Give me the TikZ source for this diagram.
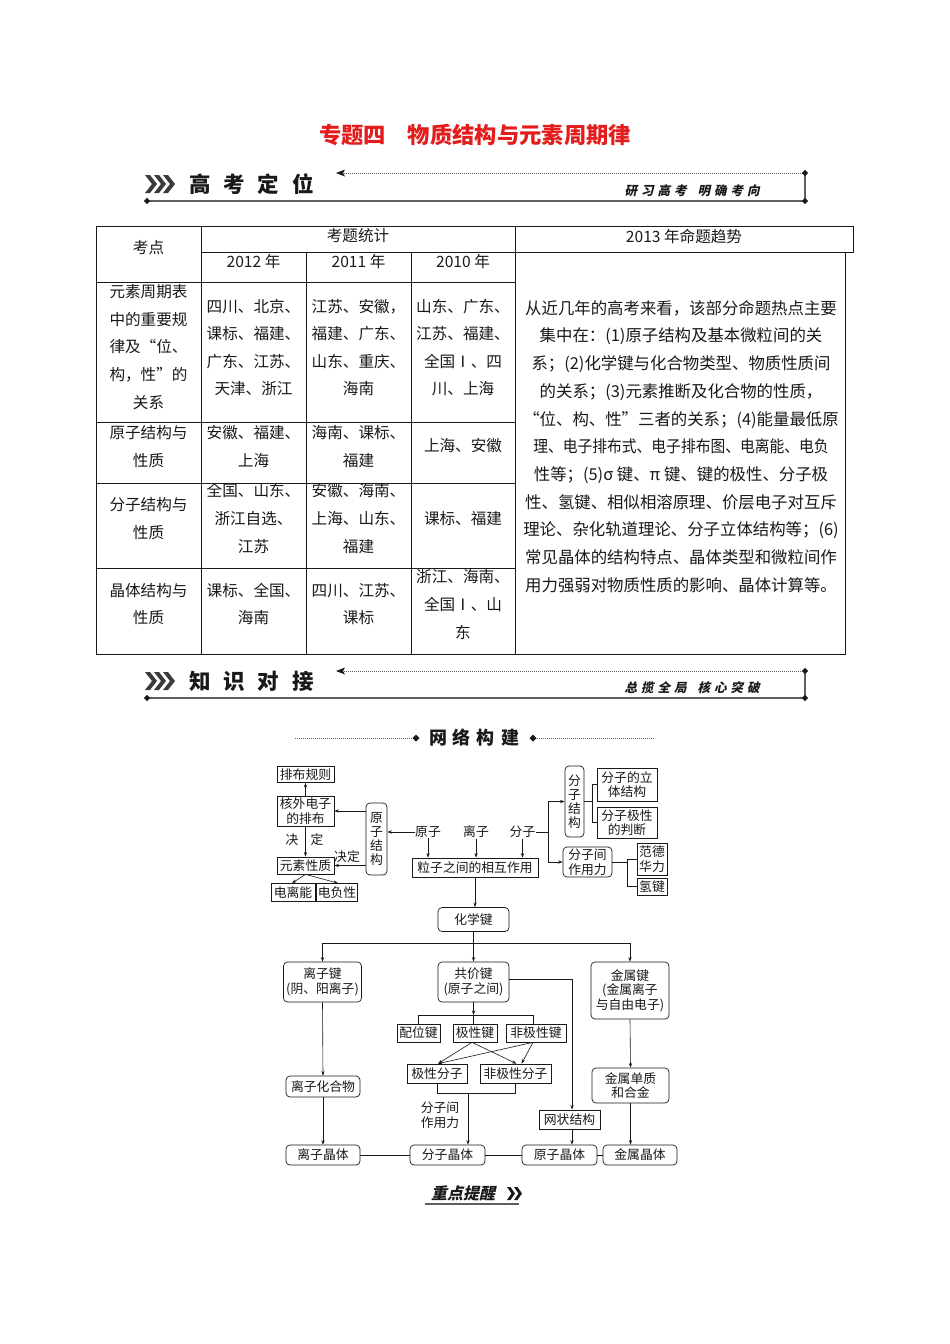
\documentclass[tikz,border=0pt]{standalone}
\usepackage{fontspec}
\usepackage{graphicx}
\setmainfont{Noto Sans CJK SC}
\newfontfamily\cjk{Noto Sans CJK SC}
\newfontfamily\cjkslant[FakeSlant=0.22]{Noto Sans CJK SC}
\usetikzlibrary{arrows.meta,calc}
\definecolor{titlered}{RGB}{228,28,28}
\definecolor{bargray}{RGB}{95,95,95}
\definecolor{ink}{RGB}{25,25,25}
\newcommand\tabfont{\cjk\fontsize{15.6}{27.6}\selectfont}
\newcommand\parafont{\cjk\fontsize{16.4}{27.7}\selectfont}
\newcommand\netfont{\cjk\fontsize{12.8}{14.5}\selectfont}
\tikzset{
  tcell/.style={font=\tabfont, text=ink, align=center, inner sep=0pt},
  tline/.style={line width=0.8pt, draw=ink},
  box/.style={draw=ink, line width=0.7pt, inner sep=1pt, font=\netfont, text=ink, align=center},
  rbox/.style={box, rounded corners=4pt},
  lbl/.style={font=\netfont, text=ink, inner sep=0.5pt, align=center},
  arr/.style={-{Stealth[length=4.5pt,width=3.2pt]}, line width=0.6pt, draw=ink},
  ln/.style={line width=0.6pt, draw=ink},
  barline/.style={line width=1.8pt, draw=bargray},
  dotline/.style={line width=0.8pt, draw=bargray, dash pattern=on 0.8pt off 1.2pt},
}
\begin{document}
\begin{tikzpicture}[x=1pt,y=-1pt]
\useasboundingbox (0,0) rectangle (950,1344);
\fill[white] (0,0) rectangle (950,1344);

% ---------- title ----------
\node[font=\cjk\bfseries\fontsize{22.3}{24}\selectfont, text=titlered, inner sep=0pt] (title) at (475,135) {专题四\hspace{22pt}物质结构与元素周期律};

% ---------- header bar 1 ----------
\foreach \i in {0,9,18}{
  \fill[ink!85] (145+\i,175) -- (150+\i,175) -- (157+\i,184) -- (150+\i,193) -- (145+\i,193) -- (152+\i,184) -- cycle;
}
\node[font=\cjk\bfseries\fontsize{21.5}{24}\selectfont, text=ink, inner sep=0pt] (h1) at (251.5,184) {高\hspace{13pt}考\hspace{13pt}定\hspace{13pt}位};
\coordinate (h1a) at (336,173);
\coordinate (h1b) at (805,173);
\coordinate (h1c) at (805,201);
\coordinate (h1d) at (147,201);
\draw[dotline] (h1b) -- ([xshift=6pt]h1a);
\fill[ink] (h1a) -- ++(9,-3.5) -- ++(-2,3.5) -- ++(2,3.5) -- cycle;
\draw[barline] (h1b) -- (h1c) -- (h1d);
\foreach \p in {h1b,h1c,h1d}{\fill[ink] (\p) ++(-3.2,0) -- ++(3.2,-3.2) -- ++(3.2,3.2) -- ++(-3.2,3.2) -- cycle;}
\node[font=\cjkslant\bfseries\fontsize{12.5}{14}\selectfont, text=ink, inner sep=0pt] (h1s) at (692,191) {研\hspace{4pt}习\hspace{4pt}高\hspace{4pt}考\hspace{11pt}明\hspace{4pt}确\hspace{4pt}考\hspace{4pt}向};

% ---------- table ----------
\draw[tline] (96,226) rectangle (515,654);
\draw[tline] (515,226) rectangle (853,252);
\draw[tline] (515,252) rectangle (845,654);
\draw[tline] (201,226) -- (201,654);
\draw[tline] (306,252) -- (306,654);
\draw[tline] (411,252) -- (411,654);
\draw[tline] (201,252) -- (515,252);
\foreach \yy in {282,422,483,568}{\draw[tline] (96,\yy) -- (515,\yy);}

\node[tcell] (kd) at (148.5,248) {考点};
\node[tcell] (ktj) at (358,236) {考题统计};
\node[tcell] (y12) at (253.5,262) {2012 年};
\node[tcell] (y11) at (358.5,262) {2011 年};
\node[tcell] (y10) at (463,262) {2010 年};
\node[tcell] (qs) at (684,236) {2013 年命题趋势};

\node[tcell] (r1c1) at (148.5,347) {元素周期表\\中的重要规\\律及“位、\\构，性”的\\关系};
\node[tcell] (r1c2) at (253.5,347.5) {四川、北京、\\课标、福建、\\广东、江苏、\\天津、浙江};
\node[tcell] (r1c3) at (358.5,347.5) {江苏、安徽，\\福建、广东、\\山东、重庆、\\海南};
\node[tcell] (r1c4) at (463,347.5) {山东、广东、\\江苏、福建、\\全国Ⅰ、四\\川、上海};

\node[tcell] (r2c1) at (148.5,446.5) {原子结构与\\性质};
\node[tcell] (r2c2) at (253.5,446.5) {安徽、福建、\\上海};
\node[tcell] (r2c3) at (358.5,446.5) {海南、课标、\\福建};
\node[tcell] (r2c4) at (463,446) {上海、安徽};

\node[tcell] (r3c1) at (148.5,518.5) {分子结构与\\性质};
\node[tcell] (r3c2) at (253.5,518.5) {全国、山东、\\浙江自选、\\江苏};
\node[tcell] (r3c3) at (358.5,518.5) {安徽、海南、\\上海、山东、\\福建};
\node[tcell] (r3c4) at (463,519) {课标、福建};

\node[tcell] (r4c1) at (148.5,604) {晶体结构与\\性质};
\node[tcell] (r4c2) at (253.5,604) {课标、全国、\\海南};
\node[tcell] (r4c3) at (358.5,604) {四川、江苏、\\课标};
\node[tcell] (r4c4) at (463,604.5) {浙江、海南、\\全国Ⅰ、山\\东};

\node[tcell, font=\parafont] (para) at (681,446.5) {从近几年的高考来看，该部分命题热点主要\\集中在：(1)原子结构及基本微粒间的关\\系；(2)化学键与化合物类型、物质性质间\\的关系；(3)元素推断及化合物的性质，\\“位、构、性”三者的关系；(4)能量最低原\\\scalebox{0.9}[1]{理、电子排布式、电子排布图、电离能、电负}\\性等；(5)σ 键、π 键、键的极性、分子极\\性、氢键、相似相溶原理、价层电子对互斥\\理论、杂化轨道理论、分子立体结构等；(6)\\常见晶体的结构特点、晶体类型和微粒间作\\用力强弱对物质性质的影响、晶体计算等。};

% ---------- header bar 2 ----------
\foreach \i in {0,9,18}{
  \fill[ink!85] (145+\i,672) -- (150+\i,672) -- (157+\i,681) -- (150+\i,690) -- (145+\i,690) -- (152+\i,681) -- cycle;
}
\node[font=\cjk\bfseries\fontsize{21.5}{24}\selectfont, text=ink, inner sep=0pt] (h2) at (251.5,681) {知\hspace{13pt}识\hspace{13pt}对\hspace{13pt}接};
\coordinate (h2a) at (336,671);
\coordinate (h2b) at (805,671);
\coordinate (h2c) at (805,698);
\coordinate (h2d) at (147,698);
\draw[dotline] (h2b) -- ([xshift=6pt]h2a);
\fill[ink] (h2a) -- ++(9,-3.5) -- ++(-2,3.5) -- ++(2,3.5) -- cycle;
\draw[barline] (h2b) -- (h2c) -- (h2d);
\foreach \p in {h2b,h2c,h2d}{\fill[ink] (\p) ++(-3.2,0) -- ++(3.2,-3.2) -- ++(3.2,3.2) -- ++(-3.2,3.2) -- cycle;}
\node[font=\cjkslant\bfseries\fontsize{12.5}{14}\selectfont, text=ink, inner sep=0pt] (h2s) at (692,688) {总\hspace{4pt}揽\hspace{4pt}全\hspace{4pt}局\hspace{11pt}核\hspace{4pt}心\hspace{4pt}突\hspace{4pt}破};

% ---------- 网络构建 ----------
\node[font=\cjk\bfseries\fontsize{18}{20}\selectfont, text=ink, inner sep=0pt] (wl) at (474,738) {网\hspace{6pt}络\hspace{6pt}构\hspace{6pt}建};
\coordinate (wlL) at (416,738);
\coordinate (wlR) at (533,738);
\draw[dotline] (295,738) -- (wlL);
\draw[dotline] (wlR) -- (655,738);
\foreach \p in {wlL,wlR}{\fill[ink] (\p) ++(-3.5,0) -- ++(3.5,-3.5) -- ++(3.5,3.5) -- ++(-3.5,3.5) -- cycle;}

% ---------- network: upper left ----------
\node[box, minimum width=57, minimum height=16] (pbgz) at (305.5,774.5) {排布规则};
\node[box, minimum width=57, minimum height=30] (hwdz) at (305.5,811) {核外电子\\的排布};
\node[box, minimum width=57, minimum height=17] (ysxz) at (305.5,865.5) {元素性质};
\node[box, minimum width=44, minimum height=18] (dln) at (293,892.5) {电离能};
\node[box, minimum width=41, minimum height=18] (dfx) at (337,892.5) {电负性};
\node[lbl] (jue) at (292,840) {决};
\node[lbl] (ding) at (317,840) {定};
\node[lbl] (jd) at (347,857) {决定};
\node[rbox, minimum width=21, minimum height=72, inner sep=0pt, font=\cjk\fontsize{12.8}{14}\selectfont] (yzjg) at (376.5,839) {原\\子\\结\\构};

\draw[arr] (hwdz.north) -- (pbgz.south);
\draw[arr] (hwdz.south) -- (ysxz.north);
\draw[arr] (ysxz.south) -- ([xshift=-1pt]dln.north);
\draw[arr] (ysxz.south) -- ([xshift=1pt]dfx.north);
\draw[arr] (yzjg.west |- hwdz.east) -- (hwdz.east);
\draw[arr] (yzjg.west |- ysxz.east) -- (ysxz.east);

\node[lbl] (yz) at (428,832) {原子};
\node[lbl] (lz) at (476,832) {离子};
\node[lbl] (fz) at (522.5,832) {分子};
\node[box, minimum width=126, minimum height=19] (lzzj) at (475,867.5) {粒子之间的相互作用};

\draw[arr] (yz.west) -- (yzjg.east |- yz.west);
\draw[arr] (yz.south) -- (yz.south |- lzzj.north);
\draw[arr] (lz.south) -- (lz.south |- lzzj.north);
\draw[arr] (fz.south) -- (fz.south |- lzzj.north);

% ---------- network: upper right ----------
\node[rbox, minimum width=19, minimum height=71, inner sep=0pt, font=\cjk\fontsize{12.8}{14}\selectfont] (fzjg) at (574.5,801.5) {分\\子\\结\\构};
\node[rbox, minimum width=49, minimum height=30] (fzzy) at (587.5,862) {分子间\\作用力};
\node[box, minimum width=60, minimum height=33] (ltjg) at (627,784.5) {分子的立\\体结构};
\node[box, minimum width=60, minimum height=31] (jxpd) at (627,822.5) {分子极性\\的判断};
\node[box, minimum width=30, minimum height=32] (fdhl) at (652,859) {范德\\华力};
\node[box, minimum width=30, minimum height=17] (qj) at (652,886.5) {氢键};

\coordinate (fzbr) at (548,832);
\draw[ln] (fz.east) -- (fzbr);
\draw[arr] (fzbr) |- (fzjg.west);
\draw[arr] (fzbr) |- (fzzy.west);
\coordinate (fjbr) at (592,801.5);
\draw[ln] (fzjg.east) -- (fjbr);
\draw[ln] (fjbr) |- (ltjg.west);
\draw[ln] (fjbr) |- (jxpd.west);
\coordinate (zybr) at (627,862);
\draw[ln] (fzzy.east) -- (zybr);
\draw[ln] (zybr) |- (fdhl.west);
\draw[ln] (zybr) |- (qj.west);

% ---------- network: chemical bonds ----------
\node[rbox, minimum width=71, minimum height=24] (hxj) at (473.5,919.5) {化学键};
\draw[arr] (lzzj.south) -- (lzzj.south |- hxj.north);

\node[rbox, minimum width=78, minimum height=40] (lzj) at (322.5,982) {离子键\\(阴、阳离子)};
\node[rbox, minimum width=71, minimum height=40] (gjj) at (473.5,982) {共价键\\(原子之间)};
\node[rbox, minimum width=78, minimum height=57] (jsj) at (630,990.5) {金属键\\(金属离子\\与自由电子)};

\coordinate (hbr) at (473.5,943);
\draw[ln] (hxj.south) -- (hbr);
\draw[ln] (lzj.north |- hbr) -- (jsj.north |- hbr);
\draw[arr] (lzj.north |- hbr) -- (lzj.north);
\draw[arr] (hbr) -- (gjj.north);
\draw[arr] (jsj.north |- hbr) -- (jsj.north);

\node[box, minimum width=43, minimum height=18] (pwj) at (418.5,1033) {配位键};
\node[box, minimum width=44, minimum height=18] (jxj) at (475,1033) {极性键};
\node[box, minimum width=60, minimum height=18] (fjxj) at (536,1033) {非极性键};

\coordinate (gbar) at (473.5,1015);
\coordinate (gbarR) at (533,1015);
\draw[arr] (gjj.south) -- (gbar);
\draw[ln] (pwj.north |- gbar) -- (gbarR) -- (gbarR |- fjxj.north);
\draw[ln] (pwj.north |- gbar) -- (pwj.north);
\draw[ln] (gbar) -- (gbar |- jxj.north);

\node[box, minimum width=60, minimum height=19] (jxfz) at (437,1073.5) {极性分子};
\node[box, minimum width=71, minimum height=19] (fjxfz) at (515.5,1073.5) {非极性分子};

\draw[arr] ([xshift=-3pt]jxj.south) -- ([xshift=1pt]jxfz.north);
\draw[arr] ([xshift=-3pt]jxj.south) -- ([xshift=1pt]fjxfz.north);
\draw[arr] ([xshift=-3pt]fjxj.south) -- ([xshift=1pt]jxfz.north);
\draw[arr] ([xshift=-3pt]fjxj.south) -- ([xshift=6pt]fjxfz.north);

\coordinate (fzbr2) at (468,1093);
\draw[ln] (jxfz.south) |- (fzbr2) -| (fjxfz.south);
\node[lbl] (fzjzyl) at (440,1115) {分子间\\作用力};

\node[rbox, minimum width=74, minimum height=21] (lzhhw) at (323,1086.5) {离子化合物};
\node[rbox, minimum width=77, minimum height=35] (jsdz) at (630.5,1085.5) {金属单质\\和合金};
\node[box, minimum width=61, minimum height=19] (wzjg) at (569.5,1119.5) {网状结构};

\coordinate (gjr) at (572,979);
\draw[ln] (gjj.east |- gjr) -- (gjr);
\draw[arr] (gjr) -- (gjr |- wzjg.north);

\node[rbox, minimum width=74, minimum height=20] (lzjt) at (323,1155) {离子晶体};
\node[rbox, minimum width=75, minimum height=20] (fzjt) at (447.5,1155) {分子晶体};
\node[rbox, minimum width=75, minimum height=20] (yzjt) at (559.5,1155) {原子晶体};
\node[rbox, minimum width=74, minimum height=20] (jsjt) at (640,1155) {金属晶体};

\draw[arr] (lzj.south) -- (lzhhw.north);
\draw[arr] (lzhhw.south) -- (lzjt.north);
\draw[arr] (jsj.south) -- (jsdz.north);
\draw[arr] (jsdz.south) -- (jsdz.south |- jsjt.north);
\draw[arr] (fzbr2) -- (fzbr2 |- fzjt.north);
\draw[arr] (gjr |- wzjg.south) -- (gjr |- yzjt.north);
\draw[ln] (lzjt) -- (fzjt);
\draw[ln] (fzjt) -- (yzjt);
\draw[ln] (yzjt) -- (jsjt);

% ---------- 重点提醒 ----------
\node[font=\cjkslant\bfseries\fontsize{16}{18}\selectfont, text=ink, inner sep=0pt] (zdtx) at (463,1193) {重点提醒};
\foreach \i in {0,7}{
  \fill[ink] (507+\i,1187) -- (510.5+\i,1187) -- (515+\i,1193.5) -- (510.5+\i,1200) -- (507+\i,1200) -- (511.5+\i,1193.5) -- cycle;
}
\coordinate (ulL) at (425,1204);
\coordinate (ulR) at (519,1204);
\draw[line width=1.2pt, draw=bargray] (ulL) -- (ulR);
\end{tikzpicture}
\end{document}
